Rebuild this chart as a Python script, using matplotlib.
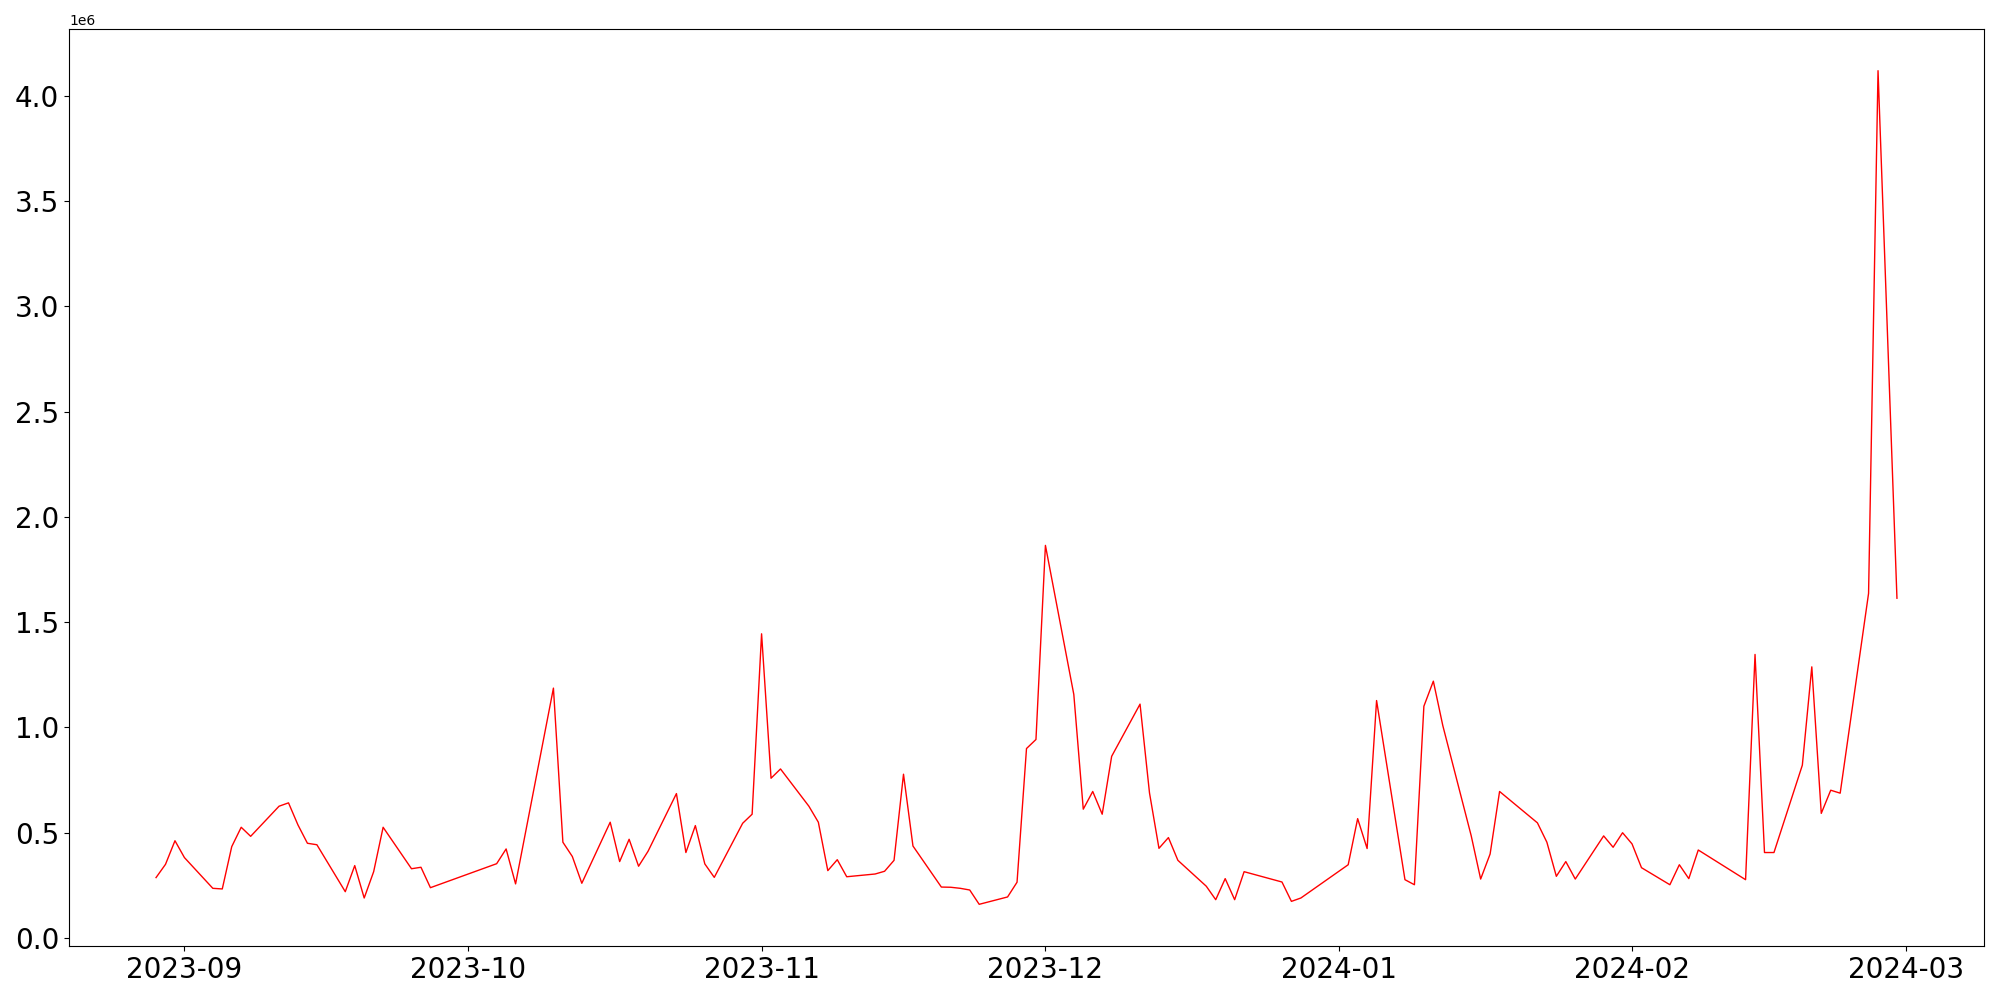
import matplotlib
matplotlib.use("Agg")
import matplotlib.pyplot as plt
import pandas as pd

# trading days (gaps = weekends / holidays)
dates = [
    "2023-08-29", "2023-08-30", "2023-08-31", "2023-09-01",
    "2023-09-04", "2023-09-05", "2023-09-06", "2023-09-07", "2023-09-08",
    "2023-09-11", "2023-09-12", "2023-09-13", "2023-09-14", "2023-09-15",
    "2023-09-18", "2023-09-19", "2023-09-20", "2023-09-21", "2023-09-22",
    "2023-09-25", "2023-09-26", "2023-09-27",
    "2023-10-04", "2023-10-05", "2023-10-06",
    "2023-10-10", "2023-10-11", "2023-10-12", "2023-10-13",
    "2023-10-16", "2023-10-17", "2023-10-18", "2023-10-19", "2023-10-20",
    "2023-10-23", "2023-10-24", "2023-10-25", "2023-10-26", "2023-10-27",
    "2023-10-30", "2023-10-31", "2023-11-01", "2023-11-02", "2023-11-03",
    "2023-11-06", "2023-11-07", "2023-11-08", "2023-11-09", "2023-11-10",
    "2023-11-13", "2023-11-14", "2023-11-15", "2023-11-16", "2023-11-17",
    "2023-11-20", "2023-11-21", "2023-11-22", "2023-11-23", "2023-11-24",
    "2023-11-27", "2023-11-28", "2023-11-29", "2023-11-30", "2023-12-01",
    "2023-12-04", "2023-12-05", "2023-12-06", "2023-12-07", "2023-12-08",
    "2023-12-11", "2023-12-12", "2023-12-13", "2023-12-14", "2023-12-15",
    "2023-12-18", "2023-12-19", "2023-12-20", "2023-12-21", "2023-12-22",
    "2023-12-26", "2023-12-27", "2023-12-28",
    "2024-01-02", "2024-01-03", "2024-01-04", "2024-01-05",
    "2024-01-08", "2024-01-09", "2024-01-10", "2024-01-11", "2024-01-12",
    "2024-01-15", "2024-01-16", "2024-01-17", "2024-01-18",
    "2024-01-22", "2024-01-23", "2024-01-24", "2024-01-25", "2024-01-26",
    "2024-01-29", "2024-01-30", "2024-01-31", "2024-02-01", "2024-02-02",
    "2024-02-05", "2024-02-06", "2024-02-07", "2024-02-08",
    "2024-02-13", "2024-02-14", "2024-02-15", "2024-02-16",
    "2024-02-19", "2024-02-20", "2024-02-21", "2024-02-22", "2024-02-23",
    "2024-02-26", "2024-02-27", "2024-02-29",
]

volume = [
    287000, 350000, 462000, 382000,
    236000, 233000, 434000, 526000, 483000,
    626000, 642000, 537000, 450000, 443000,
    220000, 344000, 190000, 315000, 526000,
    329000, 336000, 239000,
    353000, 423000, 257000,
    1187000, 455000, 387000, 260000,
    550000, 363000, 469000, 341000, 412000,
    686000, 406000, 534000, 352000, 288000,
    545000, 588000, 1445000, 759000, 803000,
    626000, 550000, 320000, 372000, 291000,
    304000, 317000, 369000, 778000, 437000,
    242000, 241000, 236000, 228000, 160000,
    195000, 265000, 900000, 943000, 1865000,
    1157000, 612000, 696000, 588000, 863000,
    1111000, 689000, 426000, 477000, 369000,
    246000, 182000, 282000, 182000, 315000,
    266000, 174000, 190000,
    348000, 567000, 425000, 1128000,
    277000, 253000, 1101000, 1220000, 1009000,
    486000, 280000, 399000, 696000,
    547000, 455000, 293000, 363000, 280000,
    485000, 431000, 500000, 447000, 334000,
    253000, 348000, 282000, 418000,
    277000, 1347000, 406000, 406000,
    821000, 1288000, 592000, 702000, 688000,
    1637000, 4120000, 1614000,
]

x = pd.to_datetime(dates)

fig, ax = plt.subplots(figsize=(20, 10), dpi=100)
ax.plot(x, volume, color="red", linewidth=1)
ax.tick_params(axis="both", labelsize=20)

plt.subplots_adjust(left=0.0345, right=0.992, top=0.971, bottom=0.054)
plt.savefig("out.png")
